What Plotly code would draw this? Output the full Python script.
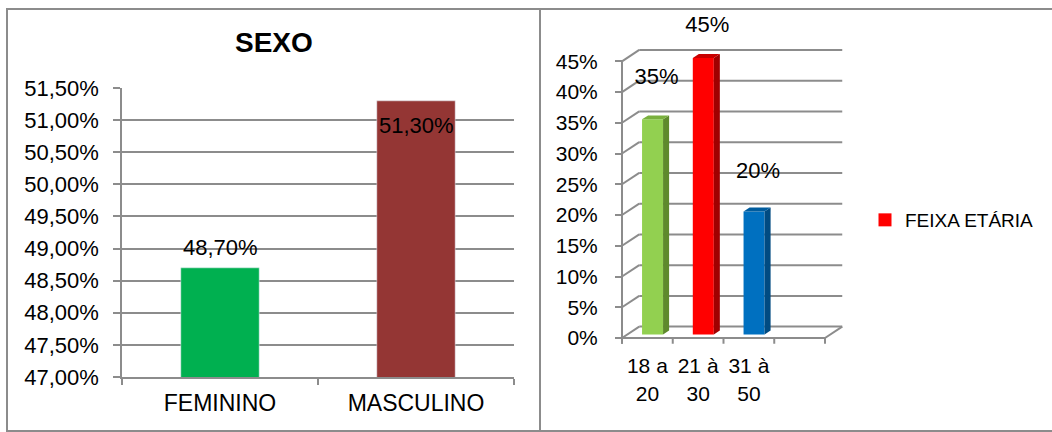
import plotly.graph_objects as go

W, H = 1052, 432
FONT = "Liberation Sans, Arial, sans-serif"
GRID = "#8C8C8C"

# ---------------- data ----------------
sexo_title = "SEXO"
sexo_cats = ["FEMININO", "MASCULINO"]
sexo_vals = [48.70, 51.30]
sexo_colors = ["#00B050", "#943634"]
sexo_ticks = [47.0, 47.5, 48.0, 48.5, 49.0, 49.5, 50.0, 50.5, 51.0, 51.5]

idade_cats = ["18 a<br>20", "21 à<br>30", "31 à<br>50"]
idade_vals = [35, 45, 20]
idade_labels = ["35%", "45%", "20%"]
idade_front = ["#92D050", "#FF0000", "#0070C0"]
idade_side = ["#5E8A2C", "#A00000", "#004B82"]
idade_top = ["#7AB03E", "#C80000", "#005C9E"]
idade_ticks = [0, 5, 10, 15, 20, 25, 30, 35, 40, 45]
idade_ticktext = ["0%", "5%", "10%", "15%", "20%", "25%", "30%", "35%", "40%", "45%"]
legend_name = "FEIXA ETÁRIA"
legend_color = "#FF0000"

# label placement styles
SEXO_LABEL_SHIFT = [20, -25]          # px shift from bar top
IDADE_LABEL_LIFT = [7.2, 5.6, 6.9]    # lift above bar top (axis units)
IDADE_LABEL_DX = 0.18


def fmt_pct(v):
    return f"{v:.2f}%".replace(".", ",")


# ---------------- helpers ----------------
def px_x(p):
    return p / W


def px_y(p):
    return 1 - p / H


# right chart pseudo-3D geometry (style constants)
S = 6.149    # px per percent
U = 50.75    # px per category
X0, Y0 = 622, 338
XR = (-0.2, 4.45)
YR = (-1.5, 54.0)
DX, DY = 0.34, 1.85   # depth offset of back wall (data units)
F0, F1 = 0.30, 0.65   # bar depth fractions
BW = 0.207            # bar half width
NSLOT = len(idade_cats) + 1

fig = go.Figure()

# ---------------- left chart ----------------
fig.add_trace(go.Bar(
    x=sexo_cats, y=sexo_vals, marker_color=sexo_colors, width=0.4,
    showlegend=False, xaxis="x", yaxis="y",
))
sexo_annotations = [
    dict(text=fmt_pct(v), x=c, y=v, xref="x", yref="y", showarrow=False,
         xanchor="center", yanchor="middle", yshift=sh,
         font=dict(family=FONT, size=22, color="black"))
    for c, v, sh in zip(sexo_cats, sexo_vals, SEXO_LABEL_SHIFT)
]

# ---------------- right chart: walls (base subplot) ----------------
wx, wy = [], []
for v in idade_ticks:
    # back wall gridline
    wx += [DX, NSLOT + DX, None]
    wy += [v + DY, v + DY, None]
    # side wall diagonal
    wx += [0, DX, None]
    wy += [v, v + DY, None]
# floor front line and right diagonal
wx += [0, NSLOT, None, NSLOT, NSLOT + DX, None]
wy += [0, 0, None, 0, DY, None]
# floor ticks
for k in range(NSLOT + 1):
    wx += [k, k, None]
    wy += [0, -0.95, None]
# front vertical axis
wx += [0, 0, None]
wy += [-0.95, max(idade_ticks), None]
fig.add_trace(go.Scatter(x=wx, y=wy, mode="lines", line=dict(color=GRID, width=2),
                         hoverinfo="skip", showlegend=False, xaxis="x2", yaxis="y2"))

# ---------------- right chart: bars (overlay subplot) ----------------
centers = [i + 0.5 for i in range(len(idade_vals))]
fig.add_trace(go.Bar(
    x=[c + F0 * DX for c in centers], y=idade_vals, base=F0 * DY, width=2 * BW,
    marker=dict(color=idade_front, line=dict(width=0)),
    showlegend=False, xaxis="x3", yaxis="y3",
))
for c, v, sc, tc in zip(centers, idade_vals, idade_side, idade_top):
    xl, xr = c - BW, c + BW
    # side face
    fig.add_trace(go.Scatter(
        x=[xr + F0 * DX, xr + F1 * DX, xr + F1 * DX, xr + F0 * DX, xr + F0 * DX],
        y=[F0 * DY, F1 * DY, v + F1 * DY, v + F0 * DY, F0 * DY],
        fill="toself", fillcolor=sc, mode="lines", line=dict(width=0, color=sc),
        hoverinfo="skip", showlegend=False, xaxis="x3", yaxis="y3"))
    # top face
    fig.add_trace(go.Scatter(
        x=[xl + F0 * DX, xr + F0 * DX, xr + F1 * DX, xl + F1 * DX, xl + F0 * DX],
        y=[v + F0 * DY, v + F0 * DY, v + F1 * DY, v + F1 * DY, v + F0 * DY],
        fill="toself", fillcolor=tc, mode="lines", line=dict(width=0, color=tc),
        hoverinfo="skip", showlegend=False, xaxis="x3", yaxis="y3"))

# data labels
fig.add_trace(go.Scatter(
    x=[c + IDADE_LABEL_DX for c in centers],
    y=[v + lift for v, lift in zip(idade_vals, IDADE_LABEL_LIFT)],
    mode="text", text=idade_labels, textposition="middle center",
    textfont=dict(family=FONT, size=22, color="black"), cliponaxis=False,
    hoverinfo="skip", showlegend=False, xaxis="x3", yaxis="y3"))

# legend entry
fig.add_trace(go.Scatter(
    x=[None], y=[None], mode="markers", name=legend_name,
    marker=dict(symbol="square", size=13, color=legend_color),
    xaxis="x3", yaxis="y3", showlegend=True))

# ---------------- layout ----------------
xdom2 = [px_x(X0 + XR[0] * U), px_x(X0 + XR[1] * U)]
ydom2 = [px_y(Y0 - YR[0] * S), px_y(Y0 - YR[1] * S)]

fig.update_layout(
    width=W, height=H, margin=dict(l=0, r=0, t=0, b=0, autoexpand=False),
    paper_bgcolor="white", plot_bgcolor="rgba(0,0,0,0)",
    separators=",.", barmode="overlay",
    font=dict(family=FONT, color="black"),
    showlegend=True,
    legend=dict(x=px_x(865), y=px_y(220), xanchor="left", yanchor="middle",
                font=dict(family=FONT, size=19, color="black"),
                bgcolor="rgba(0,0,0,0)", borderwidth=0),
    xaxis=dict(domain=[px_x(122), px_x(514)], type="category", automargin=False,
               tickson="boundaries", ticks="outside", ticklen=6, tickwidth=1.5,
               tickcolor=GRID, showline=True, linecolor=GRID, linewidth=1.5,
               showgrid=False, tickfont=dict(family=FONT, size=23, color="black"),
               ticklabelstandoff=5, fixedrange=True),
    yaxis=dict(domain=[px_y(377), px_y(88)], range=[47, 51.5], automargin=False,
               tickvals=sexo_ticks, ticktext=[fmt_pct(t) for t in sexo_ticks],
               ticks="outside", ticklen=7, tickwidth=1.5, tickcolor=GRID,
               showline=True, linecolor=GRID, linewidth=1.5,
               showgrid=True, gridcolor=GRID, gridwidth=1.5, zeroline=False,
               tickfont=dict(family=FONT, size=22, color="black"),
               ticklabelstandoff=10, fixedrange=True),
    xaxis2=dict(domain=xdom2, range=list(XR), anchor="y2", automargin=False,
                tickvals=centers, ticktext=idade_cats, ticks="",
                showline=False, showgrid=False, zeroline=False,
                tickfont=dict(family=FONT, size=21, color="black"),
                ticklabelstandoff=4, fixedrange=True),
    yaxis2=dict(domain=ydom2, range=list(YR), anchor="free", position=px_x(X0),
                automargin=False,
                tickvals=idade_ticks, ticktext=idade_ticktext,
                ticks="outside", ticklen=7, tickwidth=2, tickcolor=GRID,
                showline=False, showgrid=False, zeroline=False,
                tickfont=dict(family=FONT, size=21, color="black"),
                ticklabelstandoff=13, fixedrange=True),
    xaxis3=dict(overlaying="x2", range=list(XR), visible=False, anchor="y3",
                automargin=False, fixedrange=True),
    yaxis3=dict(overlaying="y2", range=list(YR), visible=False, anchor="x3",
                automargin=False, fixedrange=True),
    annotations=[dict(text=f"<b>{sexo_title}</b>", x=px_x(274), y=px_y(43),
                      xref="paper", yref="paper", showarrow=False,
                      xanchor="center", yanchor="middle",
                      font=dict(family=FONT, size=28, color="black"))] + sexo_annotations,
    shapes=[
        dict(type="rect", xref="paper", yref="paper", x0=px_x(7), x1=px_x(1060),
             y0=px_y(431), y1=px_y(9), line=dict(color=GRID, width=2), layer="below"),
        dict(type="line", xref="paper", yref="paper", x0=px_x(540), x1=px_x(540),
             y0=px_y(431), y1=px_y(9), line=dict(color=GRID, width=2), layer="below"),
    ],
)

fig.write_html("out.html")
